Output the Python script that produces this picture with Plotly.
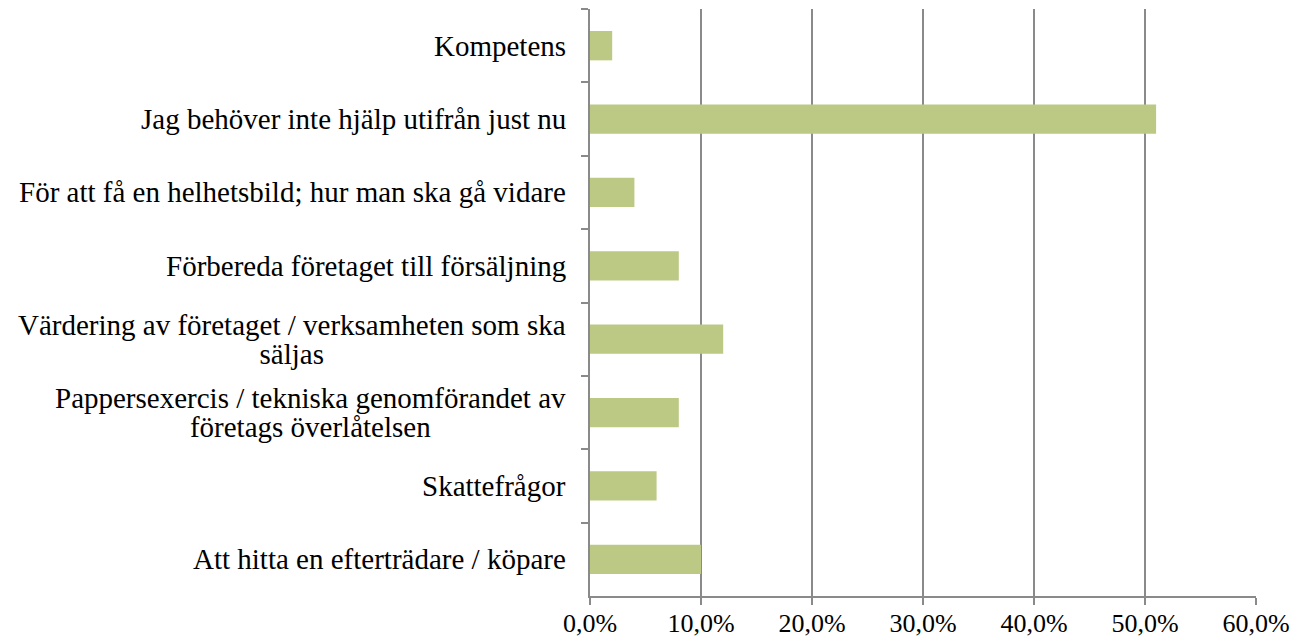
import plotly.graph_objects as go

categories = [
    "Kompetens",
    "Jag behöver inte hjälp utifrån just nu",
    "För att få en helhetsbild; hur man ska gå vidare",
    "Förbereda företaget till försäljning",
    "Värdering av företaget / verksamheten som ska<br>säljas",
    "Pappersexercis / tekniska genomförandet av<br>företags överlåtelsen",
    "Skattefrågor",
    "Att hitta en efterträdare / köpare",
]
values = [2.0, 51.0, 4.0, 8.0, 12.0, 8.0, 6.0, 10.0]
x_ticks = [0, 10, 20, 30, 40, 50, 60]
x_tick_labels = ["0,0%", "10,0%", "20,0%", "30,0%", "40,0%", "50,0%", "60,0%"]

FONT = "'Liberation Serif', 'Times New Roman', Times, serif"
GREY = "#8a8a8a"
LABEL_PX = 29

fig = go.Figure(
    go.Bar(
        y=categories,
        x=values,
        orientation="h",
        marker=dict(color="#BBC985", line=dict(width=0)),
        width=0.4,
    )
)

for c in categories:
    lines = c.split("<br>")
    txt = "<br>".join(f"<span style='font-size:{LABEL_PX}px'>{ln}</span>" for ln in lines)
    fig.add_annotation(
        x=0, xref="paper", y=c, yref="y",
        text=txt, showarrow=False,
        xanchor="right", yanchor="middle", align="center", xshift=-22,
        font=dict(family=FONT, size=22.3, color="black"),
    )

fig.update_layout(
    width=1299, height=641,
    margin=dict(l=590, r=43, t=9, b=45, autoexpand=False),
    plot_bgcolor="white", paper_bgcolor="white",
    showlegend=False,
    font=dict(family=FONT, size=27, color="black"),
)
fig.update_xaxes(
    range=[0, 60], tickvals=x_ticks, ticktext=x_tick_labels,
    showgrid=True, gridcolor=GREY, gridwidth=1.5,
    showline=True, linecolor=GREY, linewidth=1.5,
    ticks="outside", ticklen=7, tickcolor=GREY, tickwidth=1.5,
    ticklabelstandoff=-4,
    zeroline=False, tickfont=dict(family=FONT, size=26, color="black"),
    automargin=False,
)
fig.update_yaxes(
    autorange="reversed", showticklabels=False,
    showline=True, linecolor=GREY, linewidth=1.5,
    ticks="outside", ticklen=7, tickcolor=GREY, tickwidth=1.5,
    tickson="boundaries", showgrid=False, automargin=False,
)

fig.write_html(
    "out.html",
    config={"displayModeBar": False},
    post_script="document.body.style.margin='0';document.body.style.overflow='hidden';",
)
